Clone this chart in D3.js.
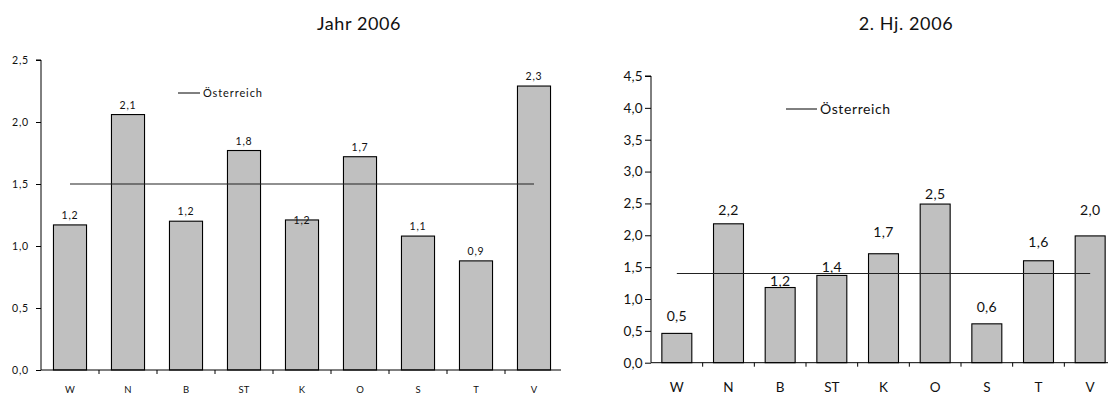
<!DOCTYPE html>
<html>
<head>
<meta charset="utf-8">
<script src="https://cdn.jsdelivr.net/npm/d3@7"></script>
<style>
  html, body { margin: 0; padding: 0; background: #fff; }
  svg { display: block; }
  text { font-family: "Lato", "DejaVu Sans", sans-serif; fill: #111; }
</style>
</head>
<body>
<svg id="chart" width="1108" height="394"></svg>
<script>
// Bundesländer
const categories = ["W", "N", "B", "ST", "K", "O", "S", "T", "V"];

// Jahr 2006
const valuesYear = [1.17, 2.06, 1.20, 1.77, 1.21, 1.72, 1.08, 0.88, 2.29];
const austriaYear = 1.5;
const ticksYear = [0, 0.5, 1.0, 1.5, 2.0, 2.5];

// 2. Halbjahr 2006
const valuesHalf = [0.46, 2.18, 1.18, 1.37, 1.71, 2.49, 0.61, 1.60, 1.99];
const austriaHalf = 1.4;
const ticksHalf = [0, 0.5, 1.0, 1.5, 2.0, 2.5, 3.0, 3.5, 4.0, 4.5];

const titles = ["Jahr 2006", "2. Hj. 2006"];
const legendLabel = "Österreich";

const fmt = v => d3.format(".1f")(v).replace(".", ",");
const svg = d3.select("#chart");

function drawPanel(cfg) {
  const g = svg.append("g");
  const y = d3.scaleLinear().domain(cfg.domain).range([cfg.bottom, cfg.top]);
  const x = d3.scaleBand().domain(categories).range([cfg.left, cfg.right]).padding(0);
  const bw = x.bandwidth() * cfg.barFrac;

  // title
  g.append("text")
    .attr("x", cfg.titleX).attr("y", 30)
    .attr("text-anchor", "middle")
    .style("font-size", "18px")
    .style("letter-spacing", "0.6px")
    .text(cfg.title);

  // bars
  g.selectAll("rect.bar").data(cfg.values).join("rect")
    .attr("class", "bar")
    .attr("x", (d, i) => x(categories[i]) + (x.bandwidth() - bw) / 2)
    .attr("y", d => y(d))
    .attr("width", bw)
    .attr("height", d => y(0) - y(d))
    .attr("fill", "#c0c0c0")
    .attr("stroke", "#000")
    .attr("stroke-width", 1.1);

  // value labels
  g.selectAll("text.val").data(cfg.values).join("text")
    .attr("class", "val")
    .attr("x", (d, i) => x(categories[i]) + x.bandwidth() / 2)
    .attr("y", (d, i) => y(d) - cfg.labelGap[i])
    .attr("text-anchor", "middle")
    .style("font-size", cfg.labelSize + "px")
    .style("letter-spacing", cfg.spacing + "px")
    .text(d => fmt(d));

  // Austria reference line, centre of first band to centre of last band
  const cx0 = x(categories[0]) + x.bandwidth() / 2;
  const cx1 = x(categories[categories.length - 1]) + x.bandwidth() / 2;
  g.append("line")
    .attr("x1", cx0).attr("x2", cx1)
    .attr("y1", y(cfg.austria)).attr("y2", y(cfg.austria))
    .attr("stroke", "#222").attr("stroke-width", 1.1);

  // y axis
  const yAxis = d3.axisLeft(y).tickValues(cfg.ticks).tickFormat(fmt)
    .tickSize(cfg.tickLen).tickPadding(cfg.tickPad);
  const ya = g.append("g").attr("transform", `translate(${cfg.left},0)`).call(yAxis);
  ya.select(".domain").attr("d", `M-${cfg.tickLen},${y(cfg.domain[1])}H0V${y(0)}`)
    .attr("stroke", "#000");
  ya.selectAll(".tick line").attr("stroke", "#000");
  ya.selectAll(".tick text")
    .style("font-family", "Lato, sans-serif")
    .style("letter-spacing", cfg.spacing + "px")
    .style("font-size", cfg.tickSize + "px").attr("fill", "#111");

  // x axis line with ticks between categories
  g.append("line")
    .attr("x1", cfg.left).attr("x2", cfg.axisEnd)
    .attr("y1", y(0)).attr("y2", y(0))
    .attr("stroke", "#000");
  g.selectAll("line.xt").data(categories.slice(1)).join("line")
    .attr("class", "xt")
    .attr("x1", d => x(d)).attr("x2", d => x(d))
    .attr("y1", y(0)).attr("y2", y(0) + 4)
    .attr("stroke", "#000");
  g.selectAll("text.cat").data(categories).join("text")
    .attr("class", "cat")
    .attr("x", d => x(d) + x.bandwidth() / 2)
    .attr("y", cfg.catY)
    .attr("text-anchor", "middle")
    .style("font-size", cfg.catSize + "px")
    .text(d => d);

  // legend
  g.append("line")
    .attr("x1", cfg.legX).attr("x2", cfg.legX + cfg.legLen)
    .attr("y1", cfg.legY).attr("y2", cfg.legY)
    .attr("stroke", "#000");
  g.append("text")
    .attr("x", cfg.legX + cfg.legLen + 3).attr("y", cfg.legY)
    .attr("dy", "0.35em")
    .style("font-size", cfg.legSize + "px")
    .style("letter-spacing", cfg.legSpacing + "px")
    .text(legendLabel);
}

drawPanel({
  title: titles[0], titleX: 359,
  values: valuesYear, austria: austriaYear, ticks: ticksYear,
  domain: [0, 2.5], top: 60, bottom: 370, left: 41, right: 563, axisEnd: 561,
  barFrac: 0.57, labelSize: 10.5, spacing: 0.8,
  labelGap: [6, 6, 6, 6, -4, 6, 6, 6, 6],
  tickLen: 5, tickPad: 7, tickSize: 10.5,
  catY: 392.5, catSize: 9.5,
  legX: 178, legLen: 22, legY: 93, legSize: 11, legSpacing: 0.9
});

drawPanel({
  title: titles[1], titleX: 906,
  values: valuesHalf, austria: austriaHalf, ticks: ticksHalf,
  domain: [0, 4.5], top: 76, bottom: 362.7, left: 651, right: 1116, axisEnd: 1116,
  barFrac: 0.58, labelSize: 14, spacing: 0.3,
  labelGap: [12, 9, 2, 3, 17, 5, 12, 14, 21],
  tickLen: 6, tickPad: 2, tickSize: 13.5,
  catY: 392, catSize: 13.5,
  legX: 786, legLen: 31, legY: 109, legSize: 14, legSpacing: 0.6
});
</script>
</body>
</html>
